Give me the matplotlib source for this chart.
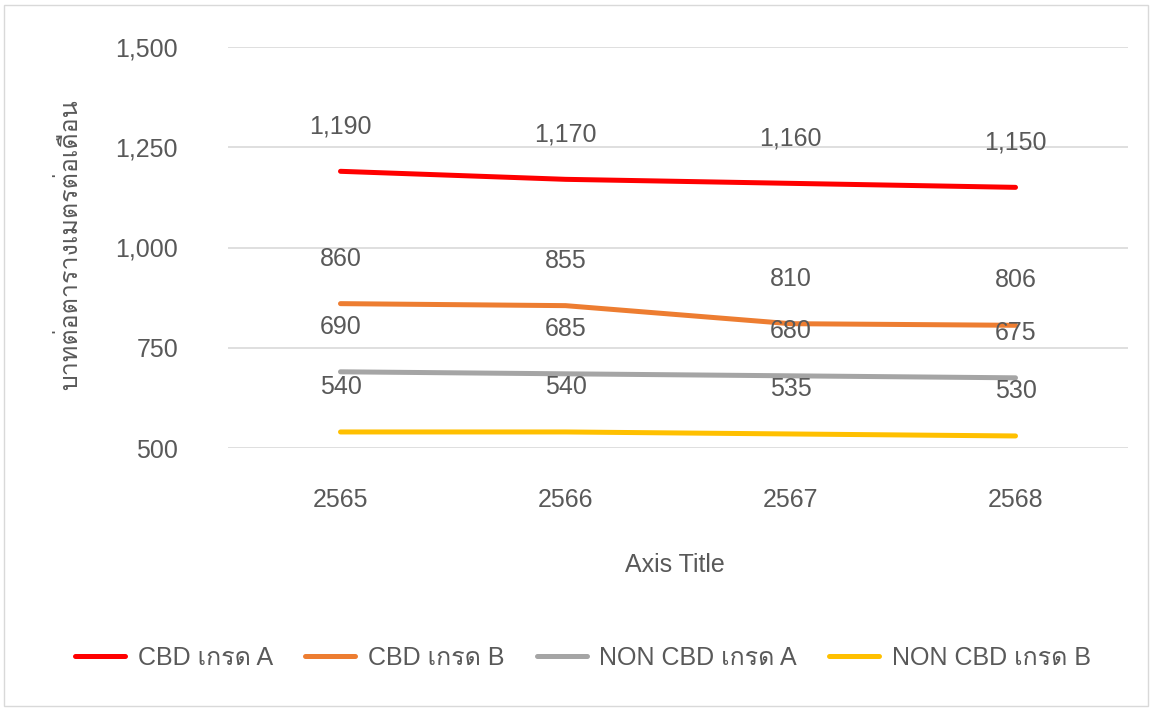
import matplotlib
matplotlib.use('Agg')
import matplotlib.pyplot as plt
from matplotlib import font_manager, ft2font
from matplotlib.patches import Rectangle

years = ['2565', '2566', '2567', '2568']
cbd_a = [1190, 1170, 1160, 1150]
cbd_b = [860, 855, 810, 806]
non_cbd_a = [690, 685, 680, 675]
non_cbd_b = [540, 540, 535, 530]
series_names = ['CBD เกรด A', 'CBD เกรด B', 'NON CBD เกรด A', 'NON CBD เกรด B']
colors = ['#FF0000', '#ED7D31', '#A5A5A5', '#FFC000']
y_ticks = [500, 750, 1000, 1250, 1500]

# look for a font that has Thai glyphs, to use as fallback
thai_fonts = []
for f in font_manager.fontManager.ttflist:
    try:
        if 0x0E01 in ft2font.FT2Font(f.fname).get_charmap():
            if f.name not in thai_fonts:
                thai_fonts.append(f.name)
    except Exception:
        pass

plt.rcParams['font.family'] = ['Liberation Sans'] + thai_fonts[:1] + ['DejaVu Sans']
text_color = '#595959'
fs = 18

fig = plt.figure(figsize=(11.52, 7.09), dpi=100)
ax = fig.add_axes([228/1152, 1 - 448/709, 900/1152, 401/709])

x = list(range(len(years)))
for vals, name, col in zip([cbd_a, cbd_b, non_cbd_a, non_cbd_b], series_names, colors):
    ax.plot(x, vals, color=col, lw=3.6, label=name, solid_capstyle='round')
    for xi, v in zip(x, vals):
        ax.annotate(f'{v:,}', (xi, v), xytext=(0, 45), textcoords='offset pixels',
                    ha='center', va='center', fontsize=fs, color=text_color)

ax.set_xlim(-0.5, 3.5)
ax.set_ylim(500, 1500)
ax.set_yticks(y_ticks)
ax.set_yticklabels([f'{t:,}' for t in y_ticks])
ax.set_xticks(x)
ax.set_xticklabels(years)
ax.tick_params(axis='y', length=0, pad=36, labelsize=fs, labelcolor=text_color)
ax.tick_params(axis='x', length=0, pad=29, labelsize=fs, labelcolor=text_color)
ax.grid(axis='y', color='#D9D9D9', lw=1.2)
ax.set_axisbelow(True)
for s in ax.spines.values():
    s.set_visible(False)

fig.text(70/1152, 1 - 245/709, 'บาทต่อตารางเมตรต่อเดือน', rotation=90,
         ha='center', va='center', fontsize=fs, color=text_color)
fig.text(675/1152, 1 - 565/709, 'Axis Title', ha='center', va='center',
         fontsize=fs, color=text_color)

fig.legend(loc='center', bbox_to_anchor=(583/1152, 1 - 658/709), ncol=4,
           frameon=False, fontsize=fs, labelcolor=text_color,
           handlelength=2.0, handletextpad=0.5, columnspacing=1.3)

fig.add_artist(Rectangle((4/1152, 3/709), 1144/1152, 701/709, transform=fig.transFigure,
                         fill=False, edgecolor='#D9D9D9', lw=1))

fig.savefig('out.png', dpi=100, facecolor='white')
